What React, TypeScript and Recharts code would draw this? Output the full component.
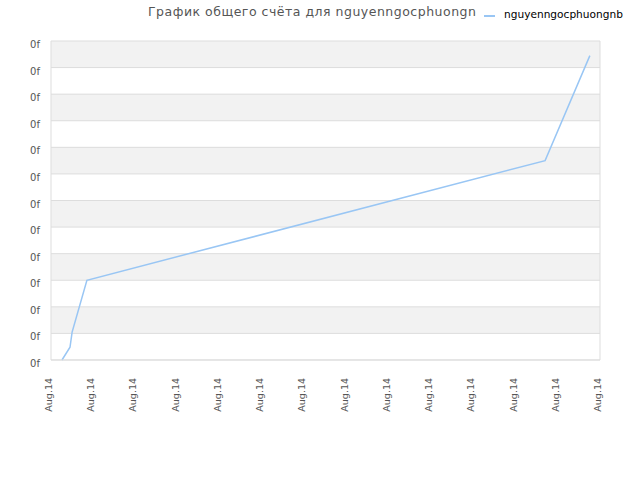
import React from "react";
import { LineChart, Line, XAxis, YAxis, CartesianGrid, ReferenceLine } from "recharts";

const TITLE = "График общего счёта для nguyenngocphuongn";
const SERIES_NAME = "nguyenngocphuongnb";
const LINE_COLOR = "#99c6f4";

// x is position along the date axis (0..13), y is score
const xValues = [0.26, 0.45, 0.5, 0.85, 11.7, 12.76];
const yValues = [0, 0.48, 1.05, 3.0, 7.5, 11.45];
const xTicks = [0, 1, 2, 3, 4, 5, 6, 7, 8, 9, 10, 11, 12, 13];
const yTicks = [0, 1, 2, 3, 4, 5, 6, 7, 8, 9, 10, 11, 12];
const xLabel = "Aug.14";
const yLabel = "0f";

const data = xValues.map((x, i) => ({ x, score: yValues[i] }));

const XTick = (props: any) => {
  const { x, y } = props;
  return (
    <text
      transform={`translate(${x + 1},${y + 10}) rotate(-90)`}
      textAnchor="end"
      fontSize={9.5}
      fontFamily="DejaVu Sans"
      fill="#555"
    >
      {xLabel}
    </text>
  );
};

const YTick = (props: any) => {
  const { x, y } = props;
  return (
    <text x={x - 3} y={y + 7} textAnchor="end" fontSize={10} fontFamily="DejaVu Sans" fill="#555">
      {yLabel}
    </text>
  );
};

export default function App() {
  return (
    <div style={{ position: "absolute", left: 0, top: 0, width: 640, height: 480, background: "#fff" }}>
      <div
        style={{
          position: "absolute",
          left: 148,
          top: 4,
          fontFamily: "DejaVu Sans",
          fontSize: 12.5,
          letterSpacing: 0.5,
          color: "#555",
          whiteSpace: "nowrap",
        }}
      >
        {TITLE}
      </div>
      <div
        style={{
          position: "absolute",
          left: 484,
          top: 15,
          width: 11,
          height: 2,
          background: LINE_COLOR,
        }}
      />
      <div
        style={{
          position: "absolute",
          left: 504,
          top: 8,
          fontFamily: "DejaVu Sans",
          fontSize: 10.6,
          color: "#000",
          whiteSpace: "nowrap",
        }}
      >
        {SERIES_NAME}
      </div>
      <LineChart width={640} height={480} data={data} margin={{ top: 41, right: 40, bottom: 0, left: 0 }}>
        <CartesianGrid vertical={false} stroke="#dddddd" horizontalFill={["#f2f2f2", "#ffffff"]} fillOpacity={1} />
        <XAxis
          type="number"
          dataKey="x"
          domain={[0, 13]}
          ticks={xTicks}
          interval={0}
          tick={<XTick />}
          tickLine={false}
          axisLine={{ stroke: "#dddddd" }}
          height={120}
        />
        <YAxis
          type="number"
          domain={[0, 12]}
          ticks={yTicks}
          interval={0}
          tick={<YTick />}
          tickLine={false}
          axisLine={{ stroke: "#dddddd" }}
          width={51}
        />
        <ReferenceLine x={13} stroke="#dddddd" />
        <Line
          type="linear"
          dataKey="score"
          stroke={LINE_COLOR}
          strokeWidth={1.5}
          dot={false}
          isAnimationActive={false}
        />
      </LineChart>
    </div>
  );
}
